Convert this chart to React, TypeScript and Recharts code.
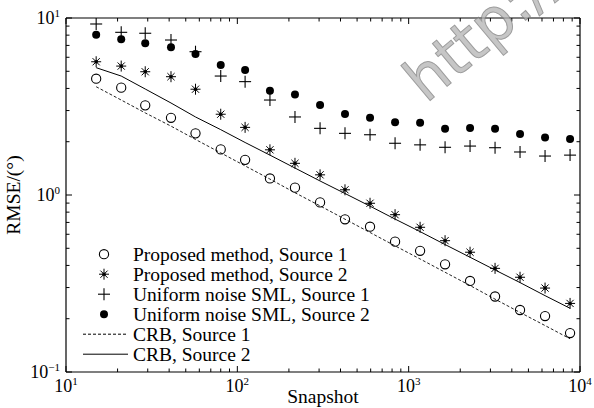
import { ComposedChart, Scatter, Line, XAxis, YAxis, Legend } from 'recharts';

// snapshot counts (x) and RMSE values
const snapshots = [15, 21, 29, 41, 57, 80, 111, 155, 217, 304, 425, 595, 833, 1166, 1631, 2282, 3193, 4467, 6252, 8750];
const proposedS1 = [4.54, 4.04, 3.21, 2.73, 2.23, 1.81, 1.58, 1.24, 1.1, 0.908, 0.729, 0.662, 0.545, 0.484, 0.406, 0.327, 0.267, 0.224, 0.207, 0.166];
const proposedS2 = [5.66, 5.35, 4.97, 4.66, 3.96, 2.86, 2.41, 1.8, 1.51, 1.3, 1.07, 0.898, 0.774, 0.657, 0.552, 0.475, 0.385, 0.343, 0.298, 0.244];
const uniformS1 = [9.25, 8.3, 8.2, 7.51, 6.45, 4.7, 4.37, 3.44, 2.76, 2.38, 2.23, 2.19, 1.96, 1.92, 1.86, 1.89, 1.85, 1.75, 1.66, 1.68];
const uniformS2 = [8.05, 7.58, 7.2, 6.83, 6.26, 5.43, 5.08, 3.88, 3.7, 3.22, 2.87, 2.73, 2.58, 2.56, 2.37, 2.39, 2.37, 2.21, 2.11, 2.07];
const crbS1 = [4.09, 3.44, 2.91, 2.45, 2.06, 1.73, 1.46, 1.23, 1.03, 0.868, 0.73, 0.614, 0.516, 0.435, 0.366, 0.308, 0.258, 0.217, 0.183, 0.154];
const crbS2 = [5.24, 4.7, 3.97, 3.31, 2.76, 2.34, 1.98, 1.68, 1.42, 1.2, 1.02, 0.865, 0.731, 0.621, 0.525, 0.445, 0.377, 0.32, 0.27, 0.229];

const xMajor = [10, 100, 1000, 10000];
const xTicks = [
  10, 20, 30, 40, 50, 60, 70, 80, 90,
  100, 200, 300, 400, 500, 600, 700, 800, 900,
  1000, 2000, 3000, 4000, 5000, 6000, 7000, 8000, 9000, 10000,
];
const yMajor = [0.1, 1, 10];
const yTicks = [0.1, 0.2, 0.3, 0.4, 0.5, 0.6, 0.7, 0.8, 0.9, 1, 2, 3, 4, 5, 6, 7, 8, 9, 10];

const legendItems = [
  { label: 'Proposed method, Source 1', kind: 'circle' },
  { label: 'Proposed method, Source 2', kind: 'star' },
  { label: 'Uniform noise SML, Source 1', kind: 'plus' },
  { label: 'Uniform noise SML, Source 2', kind: 'dot' },
  { label: 'CRB, Source 1', kind: 'dashed' },
  { label: 'CRB, Source 2', kind: 'solid' },
];

const data = snapshots.map((x, i) => ({
  x,
  p1: proposedS1[i],
  p2: proposedS2[i],
  u1: uniformS1[i],
  u2: uniformS2[i],
  crb1: crbS1[i],
  crb2: crbS2[i],
}));

const SERIF = '"Liberation Serif", "Times New Roman", serif';
const MAJOR = 6;
const MINOR = 3.5;

function expOf(v: number) {
  const e = Math.round(Math.log10(v));
  return e < 0 ? `\u2212${-e}` : `${e}`;
}

function Marker({ kind, cx, cy }: { kind: string; cx: number; cy: number }) {
  if (kind === 'circle') {
    return <circle cx={cx} cy={cy} r={4.6} fill="none" stroke="#000" strokeWidth={1.1} />;
  }
  if (kind === 'dot') {
    return <circle cx={cx} cy={cy} r={4} fill="#000" />;
  }
  if (kind === 'plus') {
    return (
      <g stroke="#000" strokeWidth={1.1}>
        <line x1={cx - 6} y1={cy} x2={cx + 6} y2={cy} />
        <line x1={cx} y1={cy - 6} x2={cx} y2={cy + 6} />
      </g>
    );
  }
  // asterisk
  return (
    <g stroke="#000" strokeWidth={1}>
      <line x1={cx - 5} y1={cy} x2={cx + 5} y2={cy} />
      <line x1={cx} y1={cy - 5.5} x2={cx} y2={cy + 5.5} />
      <line x1={cx - 3.6} y1={cy - 3.6} x2={cx + 3.6} y2={cy + 3.6} />
      <line x1={cx - 3.6} y1={cy + 3.6} x2={cx + 3.6} y2={cy - 3.6} />
      <circle cx={cx} cy={cy} r={1.8} fill="#000" stroke="none" />
    </g>
  );
}

function BottomTick({ x, y, payload }: any) {
  const major = xMajor.includes(payload.value);
  return (
    <g>
      <line x1={x} y1={y} x2={x} y2={y - (major ? MAJOR : MINOR)} stroke="#000" />
      {major && (
        <text x={x} y={y + 20} textAnchor="middle" fontSize={18} fontFamily={SERIF} fill="#000">
          10
          <tspan dy={-7} fontSize={11}>
            {expOf(payload.value)}
          </tspan>
        </text>
      )}
    </g>
  );
}

function TopTick({ x, y, payload }: any) {
  const major = xMajor.includes(payload.value);
  return <line x1={x} y1={y} x2={x} y2={y + (major ? MAJOR : MINOR)} stroke="#000" />;
}

function LeftTick({ x, y, payload }: any) {
  const major = yMajor.includes(payload.value);
  return (
    <g>
      <line x1={x} y1={y} x2={x + (major ? MAJOR : MINOR)} y2={y} stroke="#000" />
      {major && (
        <text x={x - 6} y={y + 6} textAnchor="end" fontSize={18} fontFamily={SERIF} fill="#000">
          10
          <tspan dy={-7} fontSize={11}>
            {expOf(payload.value)}
          </tspan>
        </text>
      )}
    </g>
  );
}

function RightTick({ x, y, payload }: any) {
  const major = yMajor.includes(payload.value);
  return <line x1={x} y1={y} x2={x - (major ? MAJOR : MINOR)} y2={y} stroke="#000" />;
}

function LegendBox() {
  return (
    <svg width={320} height={130} style={{ display: 'block' }}>
      {legendItems.map((item, i) => {
        const base = 20.7 + i * 20;
        const mid = base - 6.5;
        return (
          <g key={item.label}>
            {item.kind === 'dashed' || item.kind === 'solid' ? (
              <line
                x1={7}
                y1={mid}
                x2={52}
                y2={mid}
                stroke="#000"
                strokeWidth={1}
                strokeDasharray={item.kind === 'dashed' ? '3 2' : undefined}
              />
            ) : (
              <Marker kind={item.kind} cx={28} cy={mid} />
            )}
            <text x={57} y={base} fontSize={19.5} fontFamily={SERIF} fill="#000">
              {item.label}
            </text>
          </g>
        );
      })}
    </svg>
  );
}

export default function App() {
  return (
    <div style={{ position: 'absolute', left: 0, top: 0, width: 594, height: 408, background: '#fff' }}>
      <ComposedChart width={594} height={408} data={data} margin={{ top: 0, right: 0, bottom: 0, left: 0 }}>
        <XAxis
          dataKey="x"
          type="number"
          scale="log"
          domain={[10, 10000]}
          allowDataOverflow
          ticks={xTicks}
          interval={0}
          height={36}
          tickSize={0}
          tickMargin={0}
          tick={<BottomTick />}
          axisLine={{ stroke: '#000', strokeWidth: 1.2 }}
          label={{ value: 'Snapshot', position: 'insideBottom', offset: 5, fontSize: 19.5, fontFamily: SERIF, fill: '#000' }}
        />
        <XAxis
          xAxisId="top"
          orientation="top"
          dataKey="x"
          type="number"
          scale="log"
          domain={[10, 10000]}
          allowDataOverflow
          ticks={xTicks}
          interval={0}
          height={18}
          tickSize={0}
          tickMargin={0}
          tick={<TopTick />}
          axisLine={{ stroke: '#000', strokeWidth: 1.2 }}
        />
        <YAxis
          type="number"
          scale="log"
          domain={[0.1, 10]}
          allowDataOverflow
          ticks={yTicks}
          interval={0}
          width={66}
          tickSize={0}
          tickMargin={0}
          tick={<LeftTick />}
          axisLine={{ stroke: '#000', strokeWidth: 1.2 }}
          label={{
            value: 'RMSE/(°)',
            angle: -90,
            position: 'insideLeft',
            offset: 13,
            fontSize: 19.5,
            fontFamily: SERIF,
            fill: '#000',
            style: { textAnchor: 'middle' },
          }}
        />
        <YAxis
          yAxisId="right"
          orientation="right"
          type="number"
          scale="log"
          domain={[0.1, 10]}
          allowDataOverflow
          ticks={yTicks}
          interval={0}
          width={14}
          tickSize={0}
          tickMargin={0}
          tick={<RightTick />}
          axisLine={{ stroke: '#000', strokeWidth: 1.2 }}
        />
        <Line dataKey="crb1" stroke="#222" strokeWidth={1} strokeDasharray="3 2" dot={false} isAnimationActive={false} />
        <Line dataKey="crb2" stroke="#000" strokeWidth={1} dot={false} isAnimationActive={false} />
        <Scatter dataKey="p1" isAnimationActive={false} shape={(p: any) => <Marker kind="circle" cx={p.cx} cy={p.cy} />} />
        <Scatter dataKey="p2" isAnimationActive={false} shape={(p: any) => <Marker kind="star" cx={p.cx} cy={p.cy} />} />
        <Scatter dataKey="u2" isAnimationActive={false} shape={(p: any) => <Marker kind="dot" cx={p.cx} cy={p.cy} />} />
        <Scatter dataKey="u1" isAnimationActive={false} shape={(p: any) => <Marker kind="plus" cx={p.cx} cy={p.cy} />} />
        <Legend
          layout="vertical"
          align="center"
          verticalAlign="middle"
          wrapperStyle={{ left: 76, top: 240, width: 320, height: 130 }}
          content={() => <LegendBox />}
        />
      </ComposedChart>
      {/* faint watermark from the scanned figure */}
      <svg
        width={594}
        height={408}
        style={{ position: 'absolute', left: 0, top: 0, pointerEvents: 'none' }}
      >
        <text
          x={426}
          y={104}
          transform="rotate(-40 426 104)"
          fontSize={60}
          fontFamily='"DejaVu Sans", sans-serif'
          fill="#b4b4b4"
          stroke="#7c7c7c"
          strokeWidth={1}
          opacity={0.75}
        >
          http://
        </text>
      </svg>
    </div>
  );
}
